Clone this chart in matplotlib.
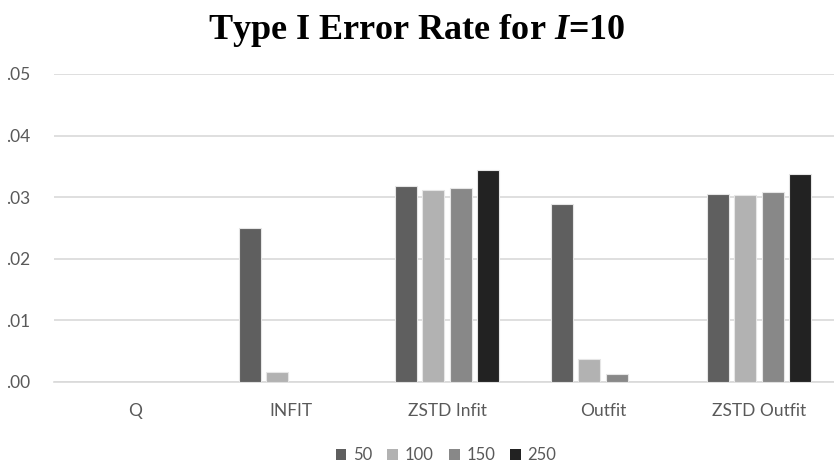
import numpy as np
import matplotlib
matplotlib.use("Agg")
import matplotlib.pyplot as plt
from matplotlib.patches import Patch

# data
categories = ["Q", "INFIT", "ZSTD Infit", "Outfit", "ZSTD Outfit"]
sizes = ["50", "100", "150", "250"]
rate_50 = [0.0, 0.0250, 0.0318, 0.0289, 0.0306]
rate_100 = [0.0, 0.0017, 0.0312, 0.0038, 0.0304]
rate_150 = [0.0, 0.0, 0.0315, 0.0013, 0.0309]
rate_250 = [0.0, 0.0, 0.0344, 0.0, 0.0338]
yticks = [0.0, 0.01, 0.02, 0.03, 0.04, 0.05]
ytick_labels = [".00", ".01", ".02", ".03", ".04", ".05"]

colors = ["#5f5f5f", "#b2b2b2", "#888888", "#222222"]
series = [rate_50, rate_100, rate_150, rate_250]

plt.rcParams["mathtext.fontset"] = "custom"
plt.rcParams["mathtext.rm"] = "Liberation Serif:bold"
plt.rcParams["mathtext.it"] = "Liberation Serif:bold:italic"

W, H = 834, 471
fig = plt.figure(figsize=(W / 100, H / 100), dpi=100)
ax = fig.add_axes([54 / W, (H - 382) / H, (837 - 54) / W, (382 - 74) / H])

x = np.arange(len(categories))
step = 0.175
width = 0.141
for i, (vals, c) in enumerate(zip(series, colors)):
    ax.bar(x + (i - 1.5) * step, vals, width, color=c, edgecolor="#e6e6e6",
           linewidth=0.8, label=sizes[i], zorder=3)

ax.set_xlim(-0.52, 4.5)
ax.set_ylim(0, 0.05)
ax.set_yticks(yticks)
ax.set_yticklabels(ytick_labels)
ax.set_xticks(x)
ax.set_xticklabels(categories)
ax.yaxis.grid(True, color="#d9d9d9", linewidth=1.2, zorder=0)
for s in ["top", "right", "left"]:
    ax.spines[s].set_visible(False)
ax.spines["bottom"].set_color("#d9d9d9")
ax.spines["bottom"].set_linewidth(1.2)
ax.tick_params(axis="both", length=0, labelcolor="#595959", labelsize=12.5)
ax.tick_params(axis="x", pad=15)
ax.tick_params(axis="y", pad=17)
for lab in ax.get_xticklabels() + ax.get_yticklabels():
    lab.set_family("Lato")

fig.text(0.5, 0.975, r"Type I Error Rate for $I$=10", ha="center", va="top",
         fontsize=26, fontweight="bold", family="Liberation Serif")

handles = [Patch(facecolor=c, edgecolor="none") for c in colors]
fig.legend(handles, sizes, loc="center", bbox_to_anchor=(446 / W, 1 - 455 / H),
           ncol=4, frameon=False, handlelength=0.65, handleheight=0.65,
           handletextpad=0.4, columnspacing=0.9,
           prop={"family": "Lato", "size": 12}, labelcolor="#595959")

fig.savefig("out.png", dpi=100)
